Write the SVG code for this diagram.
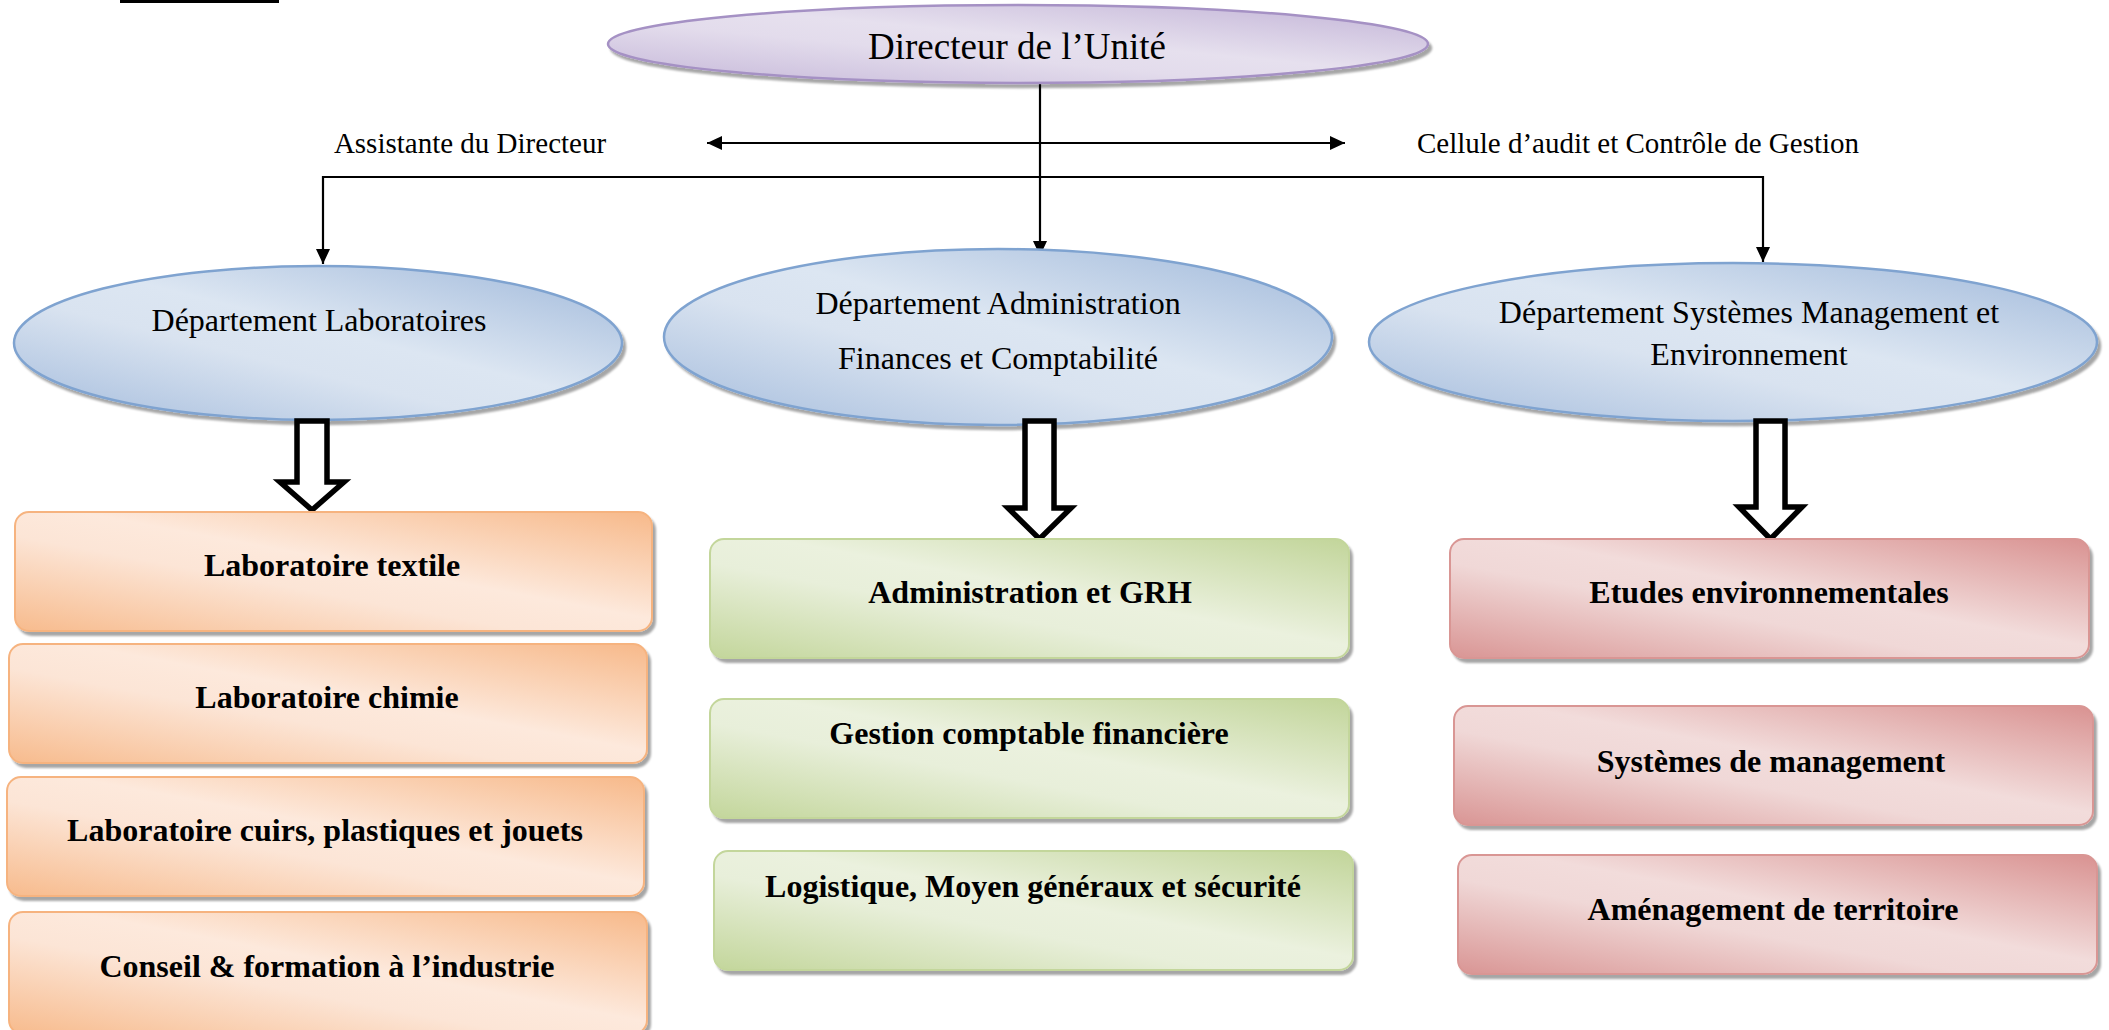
<svg xmlns="http://www.w3.org/2000/svg" width="2109" height="1030" viewBox="0 0 2109 1030">
<style>
  .t { font-family: "Liberation Serif", "Times New Roman", serif; fill: #000; text-anchor: middle; }
  .lbl { font-size: 29px; }
  .dir { font-size: 37px; }
  .dep { font-size: 32px; }
  .box { font-size: 32px; font-weight: bold; }
  .ln { stroke: #000; stroke-width: 2.2; fill: none; }
  .blk { fill: #fff; stroke: #000; stroke-width: 5.5; stroke-linejoin: miter; }
  .or { fill: url(#gOr); stroke: #f6b37f; stroke-width: 2; filter: url(#sh); }
  .gr { fill: url(#gGr); stroke: #c3d69b; stroke-width: 2; filter: url(#sh); }
  .rd { fill: url(#gRd); stroke: #d99694; stroke-width: 2; filter: url(#sh); }
  .bl { fill: url(#gBl); stroke: #7fa3d0; stroke-width: 2.5; filter: url(#sh); }
  .pu { fill: url(#gPu); stroke: #a591c4; stroke-width: 2.5; filter: url(#sh); }
</style>
<defs>
  <filter id="sh" x="-5%" y="-5%" width="110%" height="115%">
    <feDropShadow dx="3" dy="4" stdDeviation="1.2" flood-color="#000" flood-opacity="0.35"/>
  </filter>
  <linearGradient id="gOr" x1="1" y1="0" x2="0" y2="1">
    <stop offset="0" stop-color="#f7b98a"/>
    <stop offset="0.45" stop-color="#fde9dc"/>
    <stop offset="0.6" stop-color="#fce5d6"/>
    <stop offset="1" stop-color="#f7bb8d"/>
  </linearGradient>
  <linearGradient id="gGr" x1="1" y1="0" x2="0" y2="1">
    <stop offset="0" stop-color="#c2d59a"/>
    <stop offset="0.45" stop-color="#ebf1de"/>
    <stop offset="0.6" stop-color="#e8efda"/>
    <stop offset="1" stop-color="#c3d69b"/>
  </linearGradient>
  <linearGradient id="gRd" x1="1" y1="0" x2="0" y2="1">
    <stop offset="0" stop-color="#d99291"/>
    <stop offset="0.45" stop-color="#f2dcdb"/>
    <stop offset="0.6" stop-color="#f0d8d7"/>
    <stop offset="1" stop-color="#d99594"/>
  </linearGradient>
  <linearGradient id="gBl" x1="1" y1="0" x2="0" y2="1">
    <stop offset="0" stop-color="#9fb8da"/>
    <stop offset="0.45" stop-color="#dce6f2"/>
    <stop offset="0.6" stop-color="#d9e3f0"/>
    <stop offset="1" stop-color="#a3bbdc"/>
  </linearGradient>
  <linearGradient id="gPu" x1="1" y1="0" x2="0" y2="1">
    <stop offset="0" stop-color="#c1b2d6"/>
    <stop offset="0.45" stop-color="#e6e0ee"/>
    <stop offset="0.6" stop-color="#e3dcec"/>
    <stop offset="1" stop-color="#c4b6d8"/>
  </linearGradient>
  <marker id="ah" viewBox="0 0 15 14" refX="15" refY="7" markerWidth="15" markerHeight="14" markerUnits="userSpaceOnUse" orient="auto-start-reverse">
    <path d="M0,0 L15,7 L0,14 z" fill="#000"/>
  </marker>
</defs>

<rect x="120" y="0" width="159" height="3" fill="#000"/>

<g id="connectors">
  <line class="ln" x1="1040" y1="84" x2="1040" y2="256" marker-end="url(#ah)"/>
  <line class="ln" x1="707" y1="143" x2="1345" y2="143" marker-start="url(#ah)" marker-end="url(#ah)"/>
  <polyline class="ln" points="323,264 323,177 1763,177 1763,262" marker-start="url(#ah)" marker-end="url(#ah)"/>
</g>

<g id="directeur">
  <ellipse class="pu" cx="1018" cy="44" rx="410" ry="39"/>
  <text class="t dir" x="1017" y="59">Directeur de l’Unité</text>
</g>
<g id="assistante">
  <text class="t lbl" x="470" y="153">Assistante du Directeur</text>
</g>
<g id="cellule">
  <text class="t lbl" x="1638" y="153">Cellule d’audit et Contrôle de Gestion</text>
</g>

<g id="dep-labo">
  <ellipse class="bl" cx="318" cy="343" rx="304" ry="77"/>
  <text class="t dep" x="319" y="331">Département Laboratoires</text>
</g>
<g id="dep-admin">
  <ellipse class="bl" cx="998" cy="337" rx="334" ry="88"/>
  <text class="t dep" x="998" y="314">Département Administration</text>
  <text class="t dep" x="998" y="369">Finances et Comptabilité</text>
</g>
<g id="dep-sys">
  <ellipse class="bl" cx="1733" cy="342" rx="364" ry="79"/>
  <text class="t dep" x="1749" y="323">Département Systèmes Management et</text>
  <text class="t dep" x="1749" y="365">Environnement</text>
</g>

<g id="block-arrows">
  <polygon class="blk" points="297,421 327,421 327,482 344,482 312,510 280,482 297,482"/>
  <polygon class="blk" points="1025,421 1054,421 1054,508 1071,508 1039.5,539 1008,508 1025,508"/>
  <polygon class="blk" points="1756,421 1785,421 1785,507 1802,507 1770.5,539 1739,507 1756,507"/>
</g>

<g id="labo-textile">
  <rect class="or" x="15" y="512" width="637" height="119" rx="14"/>
  <text class="t box" x="332" y="576">Laboratoire textile</text>
</g>
<g id="labo-chimie">
  <rect class="or" x="9" y="644" width="638" height="119" rx="14"/>
  <text class="t box" x="327" y="708">Laboratoire chimie</text>
</g>
<g id="labo-cuirs">
  <rect class="or" x="7" y="777" width="637" height="119" rx="14"/>
  <text class="t box" x="325" y="841">Laboratoire cuirs, plastiques et jouets</text>
</g>
<g id="conseil">
  <rect class="or" x="9" y="912" width="638" height="122" rx="14"/>
  <text class="t box" x="327" y="977">Conseil &amp; formation à l’industrie</text>
</g>

<g id="admin-grh">
  <rect class="gr" x="710" y="539" width="639" height="119" rx="14"/>
  <text class="t box" x="1030" y="603">Administration et GRH</text>
</g>
<g id="gestion">
  <rect class="gr" x="710" y="699" width="639" height="119" rx="14"/>
  <text class="t box" x="1029" y="744">Gestion comptable financière</text>
</g>
<g id="logistique">
  <rect class="gr" x="714" y="851" width="639" height="119" rx="14"/>
  <text class="t box" x="1033" y="897">Logistique, Moyen généraux et sécurité</text>
</g>

<g id="etudes">
  <rect class="rd" x="1450" y="539" width="639" height="119" rx="14"/>
  <text class="t box" x="1769" y="603">Etudes environnementales</text>
</g>
<g id="systemes">
  <rect class="rd" x="1454" y="706" width="639" height="119" rx="14"/>
  <text class="t box" x="1771" y="772">Systèmes de management</text>
</g>
<g id="amenagement">
  <rect class="rd" x="1458" y="855" width="639" height="119" rx="14"/>
  <text class="t box" x="1773" y="920">Aménagement de territoire</text>
</g>
</svg>
